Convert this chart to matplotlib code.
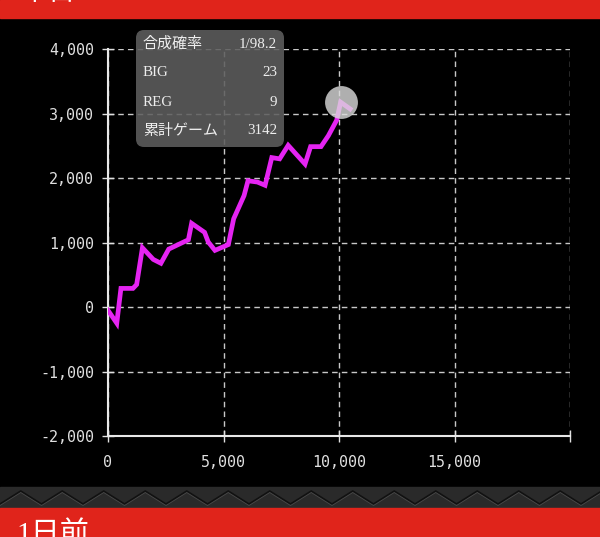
import numpy as np
import matplotlib
matplotlib.use('Agg')
import matplotlib.pyplot as plt
from matplotlib.patches import Rectangle, FancyBboxPatch

# --- data ---
games = [0, 380, 560, 1080, 1240, 1490, 1960, 2290, 2630, 3480, 3620, 4180, 4340, 4630, 5210,
         5440, 5890, 6060, 6470, 6800, 7090, 7430, 7800, 8530, 8770, 9220, 9540, 9900, 10070, 10480]
diff = [-50, -250, 290, 290, 350, 920, 740, 680, 900, 1045, 1300, 1160, 1010, 880, 970,
        1370, 1730, 1960, 1940, 1890, 2320, 2300, 2510, 2220, 2490, 2490, 2660, 2900, 3180, 3075]
peak = 28  # hovered point

xticks = [0, 5000, 10000, 15000, 20000]
xlabels = ['0', '5,000', '10,000', '15,000', '']
yticks = [-2000, -1000, 0, 1000, 2000, 3000, 4000]

tip_names = ['合成確率', 'BIG', 'REG', '累計ゲーム']
tip_vals = ['1/98.2', '23', '9', '3142']

head_top = '本日'
head_bottom = '1日前'

W, H = 600, 537
red = '#e0241b'
serif_jp = ['Liberation Serif', 'Noto Sans CJK JP']

fig = plt.figure(figsize=(6, 5.37), dpi=100, facecolor='black')

# background: headers + zigzag band, in pixel coords
bg = fig.add_axes([0, 0, 1, 1])
bg.set_xlim(0, W)
bg.set_ylim(H, 0)
bg.axis('off')
bg.add_patch(Rectangle((0, 0), W, 18, color=red))
bg.add_patch(Rectangle((0, 487), W, 21, color='#2a2a2a'))
bg.add_patch(Rectangle((0, 508), W, 29, color=red))
zx = np.arange(-41.5, W + 42, 20.75)
zy = np.where(np.arange(len(zx)) % 2 == 0, 504, 491)
bg.plot(zx, zy + 1, color='#4a4a4a', lw=1.2)
bg.plot(zx, zy, color='#111111', lw=1.2)
bg.text(20, 6, head_top, color='white', fontsize=20, va='bottom', family=serif_jp)
bg.text(16, 521, head_bottom, color='white', fontsize=21, va='top', family=serif_jp)

# main chart
ax = fig.add_axes([108 / W, 1 - 436 / H, (570 - 108) / W, (436 - 49.3) / H])
ax.set_facecolor('black')
ax.plot(games, diff, color='#e524f2', lw=3.4, solid_joinstyle='miter', zorder=3)
ax.scatter([games[peak]], [diff[peak]], s=560, color='#dcdcdc', alpha=0.8, lw=0, zorder=4)

ax.set_xlim(0, 20000)
ax.set_ylim(-2000, 4000)
ax.set_xticks(xticks)
ax.set_xticklabels(xlabels)
ax.set_yticks(yticks)
ax.set_yticklabels([f'{v:,}' for v in yticks])
ax.grid(True, color='#c8c8c8', ls=(0, (4, 3)), lw=1)
for s in ['top', 'right']:
    ax.spines[s].set_visible(False)
for s in ['left', 'bottom']:
    ax.spines[s].set_color('#e8e8e8')
    ax.spines[s].set_linewidth(1.5)
ax.tick_params(direction='inout', length=8, width=1, color='#e0e0e0', labelcolor='#e0e0e0')
ax.tick_params(axis='x', pad=10)
ax.tick_params(axis='y', pad=6)
for lab in ax.get_xticklabels() + ax.get_yticklabels():
    lab.set_family('DejaVu Sans Mono')
    lab.set_fontsize(10.8)

# tooltip overlay
ov = fig.add_axes([0, 0, 1, 1], facecolor='none')
ov.set_xlim(0, W)
ov.set_ylim(H, 0)
ov.axis('off')
ov.add_patch(FancyBboxPatch((136, 30), 148, 117, boxstyle='round,pad=0,rounding_size=8',
                            fc='#5e5e5e', ec='none', alpha=0.88))
for i, (n, v) in enumerate(zip(tip_names, tip_vals)):
    y = 44 + i * 29
    ov.text(143, y, n, color='#eeeeee', fontsize=10.8, va='center', family=serif_jp)
    ov.text(277, y, v, color='#eeeeee', fontsize=10.8, va='center', ha='right', family=serif_jp)

fig.savefig('out.png', dpi=100, facecolor='black')
